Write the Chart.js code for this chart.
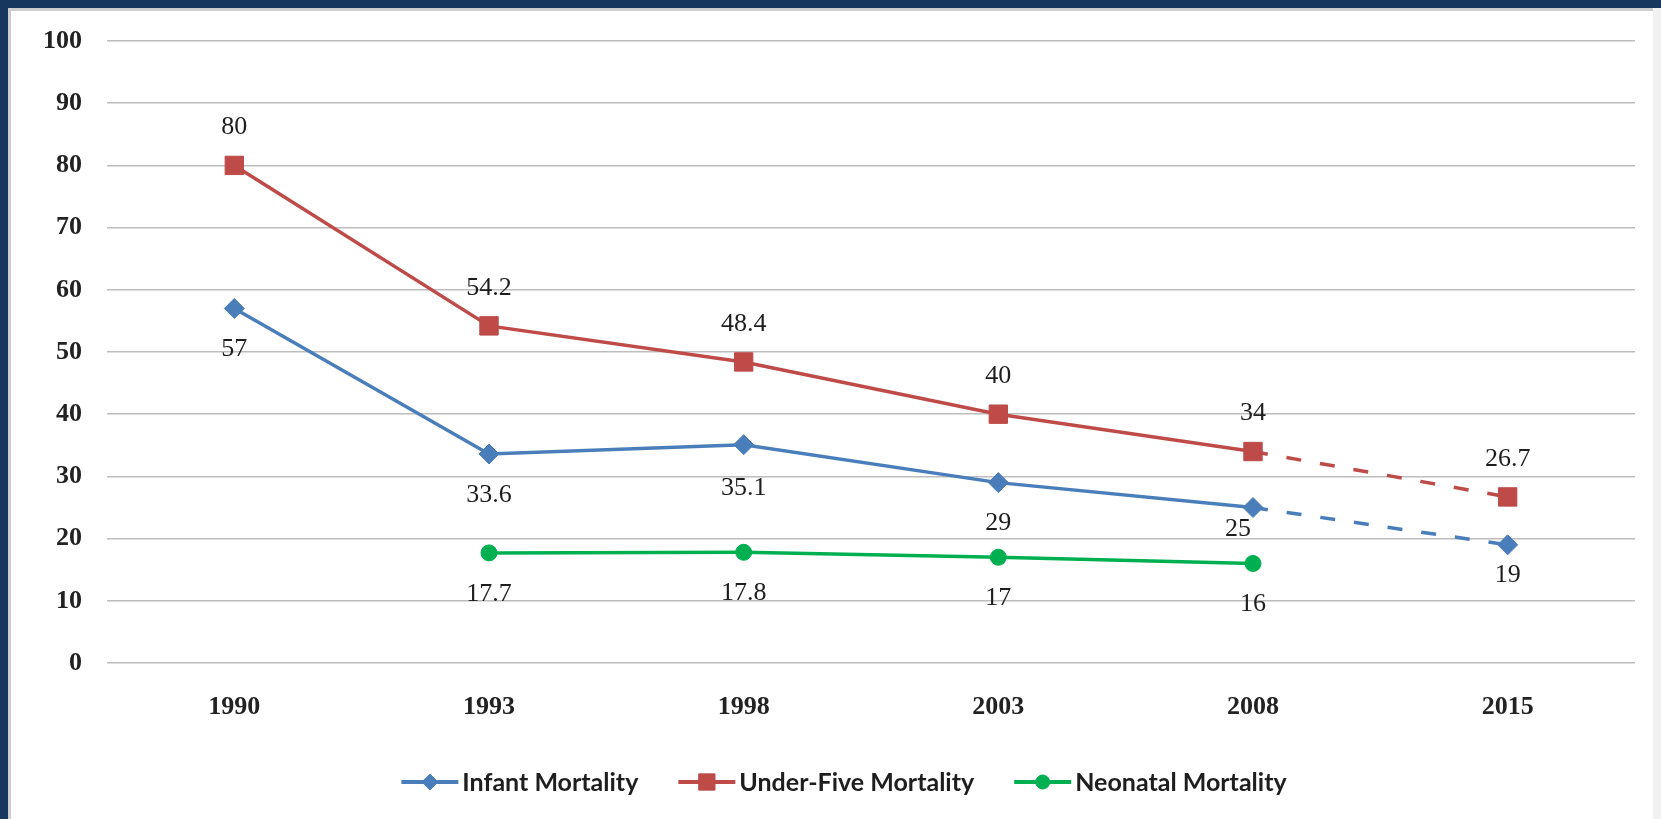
<!DOCTYPE html>
<html>
<head>
<meta charset="utf-8">
<script src="https://cdn.jsdelivr.net/npm/chart.js@4/dist/chart.umd.min.js"></script>
<style>
  html, body { margin: 0; padding: 0; background: #ffffff; }
  #frame {
    position: absolute; left: 0; top: 0; width: 1661px; height: 819px;
    box-sizing: border-box; background: #f1f1f1;
    border-top: 8px solid #17375e; border-left: 8px solid #17375e;
  }
  #panel {
    position: absolute; left: 0; top: 0; right: 8px; bottom: 0;
    border-top: 3px solid #cdcdcd; border-left: 3px solid #cdcdcd;
    background: #ffffff;
  }
  #chart { position: absolute; left: 0; top: 0; }
</style>
</head>
<body>
<div id="frame"><div id="panel"></div></div>
<canvas id="chart" width="1661" height="819"></canvas>
<script>
// Survey years (2015 is the target year)
const years = ['1990', '1993', '1998', '2003', '2008', '2015'];

// Deaths per 1,000 live births
const infantMortality    = [57, 33.6, 35.1, 29, 25, 19];
const underFiveMortality = [80, 54.2, 48.4, 40, 34, 26.7];
const neonatalMortality  = [null, 17.7, 17.8, 17, 16, null];

// Value axis
const yMin = 0;
const yMax = 100;
const yStep = 10;

// Index of the last surveyed year; the segment after it is a projection
const lastSurveyIndex = 4;

const projectionDash = ctx => (ctx.p0DataIndex >= lastSurveyIndex ? [15, 19] : undefined);

// Writes each point's value next to its marker
const pointValues = {
  id: 'pointValues',
  afterDatasetsDraw(chart) {
    const ctx = chart.ctx;
    ctx.save();
    ctx.font = '26px "Liberation Serif", serif';
    ctx.fillStyle = '#1e1e1e';
    ctx.textAlign = 'center';
    ctx.textBaseline = 'middle';
    chart.data.datasets.forEach((ds, i) => {
      const meta = chart.getDatasetMeta(i);
      meta.data.forEach((pt, j) => {
        const v = ds.data[j];
        if (v === null || v === undefined) return;
        const nudge = (ds.labelNudge && ds.labelNudge[j]) || [0, 0];
        ctx.fillText(String(v), pt.x + nudge[0], pt.y + ds.labelShift + nudge[1]);
      });
    });
    ctx.restore();
  }
};

// Legend row: a short line with the series marker, then the series name
const lineLegend = {
  id: 'lineLegend',
  afterDraw(chart) {
    const ctx = chart.ctx;
    const y = 782;
    const lineLen = 57, textGap = 4, itemGap = 40, centerX = 844;
    ctx.save();
    ctx.font = 'bold 25px Lato, "Open Sans", sans-serif';
    ctx.textBaseline = 'middle';
    ctx.textAlign = 'left';
    const items = chart.data.datasets.map(ds => ({ ds, w: ctx.measureText(ds.label).width }));
    const total = items.reduce((s, it) => s + lineLen + textGap + it.w, 0) + itemGap * (items.length - 1);
    let x = centerX - total / 2;
    items.forEach(({ ds, w }) => {
      ctx.strokeStyle = ds.borderColor;
      ctx.lineWidth = 4;
      ctx.beginPath();
      ctx.moveTo(x, y);
      ctx.lineTo(x + lineLen, y);
      ctx.stroke();
      ctx.fillStyle = ds.pointBackgroundColor;
      ctx.strokeStyle = ds.pointBorderColor;
      ctx.lineWidth = 1;
      Chart.helpers.drawPoint(ctx, {
        pointStyle: ds.pointStyle,
        radius: ds.legendRadius,
        borderWidth: 1
      }, x + lineLen / 2, y);
      ctx.fillStyle = '#1e1e1e';
      ctx.fillText(ds.label, x + lineLen + textGap, y + 1);
      x += lineLen + textGap + w + itemGap;
    });
    ctx.restore();
  }
};

new Chart(document.getElementById('chart'), {
  type: 'line',
  data: {
    labels: years,
    datasets: [
      {
        label: 'Infant Mortality',
        data: infantMortality,
        borderColor: '#4a7ebb',
        backgroundColor: '#4a7ebb',
        pointBackgroundColor: '#4a7ebb',
        pointBorderColor: '#4a7ebb',
        pointStyle: 'rectRot',
        pointRadius: 10,
        pointBorderWidth: 1,
        legendRadius: 8,
        borderWidth: 3.5,
        segment: { borderDash: projectionDash },
        labelShift: 41,
        labelNudge: [null, null, [0, 2], null, [-15, -19], [0, -11]]
      },
      {
        label: 'Under-Five Mortality',
        data: underFiveMortality,
        borderColor: '#be4b48',
        backgroundColor: '#be4b48',
        pointBackgroundColor: '#be4b48',
        pointBorderColor: '#be4b48',
        pointStyle: 'rect',
        pointRadius: 13,
        pointBorderWidth: 1,
        legendRadius: 11.5,
        borderWidth: 3.5,
        segment: { borderDash: projectionDash },
        labelShift: -38,
        labelNudge: []
      },
      {
        label: 'Neonatal Mortality',
        data: neonatalMortality,
        borderColor: '#00b050',
        backgroundColor: '#00b050',
        pointBackgroundColor: '#00b050',
        pointBorderColor: '#00b050',
        pointStyle: 'circle',
        pointRadius: 8,
        pointBorderWidth: 1,
        legendRadius: 7,
        borderWidth: 3.5,
        spanGaps: false,
        labelShift: 41,
        labelNudge: []
      }
    ]
  },
  options: {
    responsive: false,
    animation: false,
    layout: { padding: { left: 0, top: 41, right: 26, bottom: 96 } },
    plugins: {
      legend: { display: false },
      tooltip: { enabled: false }
    },
    scales: {
      x: {
        offset: true,
        grid: { display: false, drawTicks: false },
        border: { display: false },
        ticks: {
          padding: 29,
          color: '#222222',
          font: { family: '"Liberation Serif", serif', size: 26, weight: 'bold' }
        },
        afterFit(scale) { scale.height = 60; }
      },
      y: {
        min: yMin,
        max: yMax,
        grid: { color: '#bdbdbd', lineWidth: 1.5, drawTicks: false },
        border: { display: false },
        ticks: {
          stepSize: yStep,
          padding: 25,
          color: '#222222',
          font: { family: '"Liberation Serif", serif', size: 26, weight: 'bold' }
        },
        afterFit(scale) { scale.width = 107; }
      }
    }
  },
  plugins: [pointValues, lineLegend]
});
</script>
</body>
</html>
